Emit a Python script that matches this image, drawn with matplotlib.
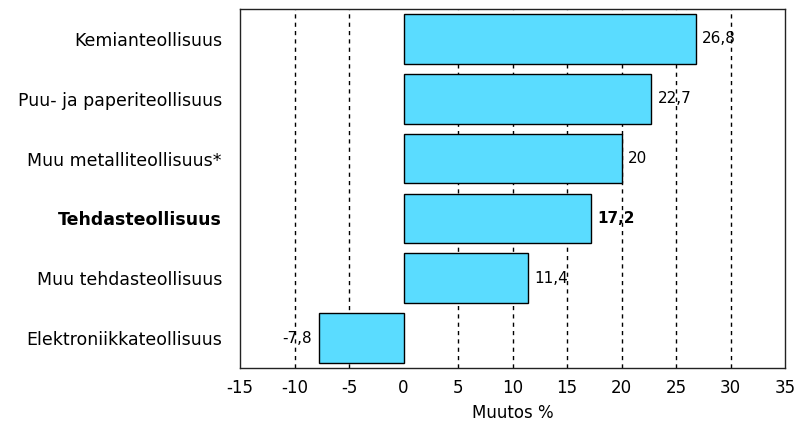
import matplotlib.pyplot as plt

categories = ['Kemianteollisuus', 'Puu- ja paperiteollisuus', 'Muu metalliteollisuus*',
              'Tehdasteollisuus', 'Muu tehdasteollisuus', 'Elektroniikkateollisuus']
values = [26.8, 22.7, 20.0, 17.2, 11.4, -7.8]
value_labels = ['26,8', '22,7', '20', '17,2', '11,4', '-7,8']
bold_row = 'Tehdasteollisuus'
xticks = [-15, -10, -5, 0, 5, 10, 15, 20, 25, 30, 35]

plt.rcParams['font.family'] = ['DejaVu Sans']

fig = plt.figure(figsize=(7.96, 4.32), dpi=100)
ax = fig.add_axes([0.3015, 0.148, 0.685, 0.831])

pos = list(range(len(categories)))[::-1]
ax.barh(pos, values, height=0.83, color='#5ADCFF', edgecolor='black', linewidth=1, zorder=2)

for p, v, lab, cat in zip(pos, values, value_labels, categories):
    w = 'bold' if cat == bold_row else 'normal'
    if v >= 0:
        ax.text(v + 0.6, p, lab, va='center', ha='left', fontsize=11, fontweight=w, zorder=3)
    else:
        ax.text(v - 0.6, p, lab, va='center', ha='right', fontsize=11, fontweight=w, zorder=3)

ax.set_xlim(-15, 35)
ax.set_ylim(-0.5, len(categories) - 0.5)
ax.set_xticks(xticks)
ax.set_xticklabels([str(t) for t in xticks], fontsize=12)
ax.set_yticks(pos)
ax.set_yticklabels(categories, fontsize=12.5)
for lbl in ax.get_yticklabels():
    if lbl.get_text() == bold_row:
        lbl.set_fontweight('bold')
ax.tick_params(axis='both', length=0)
ax.tick_params(axis='x', pad=8)
ax.tick_params(axis='y', pad=13)

for t in xticks[1:-1]:
    if t != 0:
        ax.axvline(t, color='black', linestyle=(0, (3, 3)), linewidth=1, zorder=1)

for s in ax.spines.values():
    s.set_linewidth(1)
    s.set_color('#222222')

ax.set_xlabel('Muutos %', fontsize=12, labelpad=5)

fig.savefig('out.png', dpi=100)
